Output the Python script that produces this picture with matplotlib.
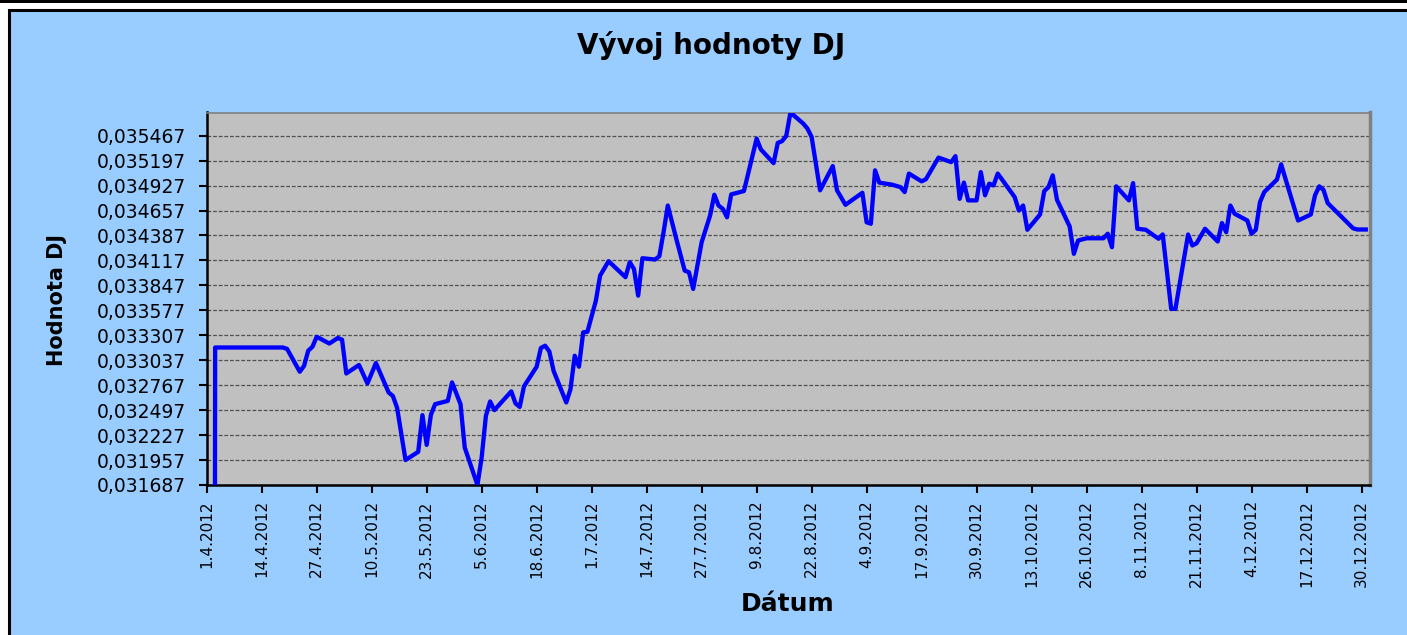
import numpy as np
import pandas as pd
import matplotlib
matplotlib.use('Agg')
import matplotlib.pyplot as plt
from matplotlib.patches import Rectangle

# hodnoty DJ (odcitane z grafu)
datumy = ['2012-04-02', '2012-04-03', '2012-04-19', '2012-04-20', '2012-04-23', '2012-04-24',
          '2012-04-25', '2012-04-26', '2012-04-27', '2012-04-30', '2012-05-02', '2012-05-03',
          '2012-05-04', '2012-05-07', '2012-05-09', '2012-05-11', '2012-05-14', '2012-05-15',
          '2012-05-16', '2012-05-18', '2012-05-21', '2012-05-22', '2012-05-23', '2012-05-24',
          '2012-05-25', '2012-05-28', '2012-05-29', '2012-05-31', '2012-06-01', '2012-06-04',
          '2012-06-05', '2012-06-06', '2012-06-07', '2012-06-08', '2012-06-12', '2012-06-13',
          '2012-06-14', '2012-06-15', '2012-06-18', '2012-06-19', '2012-06-20', '2012-06-21',
          '2012-06-22', '2012-06-25', '2012-06-26', '2012-06-27', '2012-06-28', '2012-06-29',
          '2012-06-30', '2012-07-02', '2012-07-03', '2012-07-05', '2012-07-09', '2012-07-10',
          '2012-07-11', '2012-07-12', '2012-07-13', '2012-07-16', '2012-07-17', '2012-07-18',
          '2012-07-19', '2012-07-21', '2012-07-23', '2012-07-24', '2012-07-25', '2012-07-27',
          '2012-07-29', '2012-07-30', '2012-07-31', '2012-08-01', '2012-08-02', '2012-08-03',
          '2012-08-06', '2012-08-09', '2012-08-10', '2012-08-13', '2012-08-14', '2012-08-15',
          '2012-08-16', '2012-08-17', '2012-08-20', '2012-08-21', '2012-08-22', '2012-08-24',
          '2012-08-27', '2012-08-28', '2012-08-30', '2012-09-03', '2012-09-04', '2012-09-05',
          '2012-09-06', '2012-09-07', '2012-09-10', '2012-09-12', '2012-09-13', '2012-09-14',
          '2012-09-17', '2012-09-18', '2012-09-21', '2012-09-24', '2012-09-25', '2012-09-26',
          '2012-09-27', '2012-09-28', '2012-09-30', '2012-10-01', '2012-10-02', '2012-10-03',
          '2012-10-04', '2012-10-05', '2012-10-09', '2012-10-10', '2012-10-11', '2012-10-12',
          '2012-10-15', '2012-10-16', '2012-10-17', '2012-10-18', '2012-10-19', '2012-10-22',
          '2012-10-23', '2012-10-24', '2012-10-26', '2012-10-30', '2012-10-31', '2012-11-01',
          '2012-11-02', '2012-11-05', '2012-11-06', '2012-11-07', '2012-11-09', '2012-11-12',
          '2012-11-13', '2012-11-15', '2012-11-16', '2012-11-19', '2012-11-20', '2012-11-21',
          '2012-11-23', '2012-11-26', '2012-11-27', '2012-11-28', '2012-11-29', '2012-11-30',
          '2012-12-03', '2012-12-04', '2012-12-05', '2012-12-06', '2012-12-07', '2012-12-10',
          '2012-12-11', '2012-12-12', '2012-12-15', '2012-12-18', '2012-12-19', '2012-12-20',
          '2012-12-21', '2012-12-22', '2012-12-28', '2012-12-29', '2012-12-31']

hodnoty = [0.0, 0.033175, 0.033175, 0.033160, 0.032913, 0.032975,
           0.033140, 0.033183, 0.033291, 0.033218, 0.033278, 0.033259,
           0.032894, 0.032986, 0.032786, 0.033007, 0.032689, 0.032651,
           0.032524, 0.031957, 0.032046, 0.032443, 0.032121, 0.032446,
           0.032562, 0.032597, 0.032797, 0.032562, 0.032092, 0.031687,
           0.031984, 0.032435, 0.032591, 0.032497, 0.032700, 0.032570,
           0.032532, 0.032754, 0.032967, 0.033170, 0.033194, 0.033132,
           0.032923, 0.032580, 0.032724, 0.033086, 0.032967, 0.033339,
           0.033345, 0.033682, 0.033953, 0.034109, 0.033936, 0.034098,
           0.034025, 0.033736, 0.034141, 0.034127, 0.034163, 0.034423,
           0.034711, 0.034352, 0.034007, 0.033990, 0.033809, 0.034314,
           0.034603, 0.034828, 0.034711, 0.034676, 0.034584, 0.034832,
           0.034868, 0.035435, 0.035319, 0.035170, 0.035389, 0.035408,
           0.035464, 0.035718, 0.035599, 0.035545, 0.035454, 0.034876,
           0.035138, 0.034876, 0.034719, 0.034849, 0.034530, 0.034514,
           0.035092, 0.034959, 0.034937, 0.034911, 0.034857, 0.035057,
           0.034973, 0.034995, 0.035230, 0.035181, 0.035246, 0.034784,
           0.034960, 0.034767, 0.034767, 0.035073, 0.034822, 0.034948,
           0.034929, 0.035057, 0.034803, 0.034657, 0.034711, 0.034449,
           0.034614, 0.034868, 0.034911, 0.035038, 0.034774, 0.034485,
           0.034189, 0.034333, 0.034357, 0.034357, 0.034406, 0.034260,
           0.034919, 0.034767, 0.034954, 0.034460, 0.034449, 0.034352,
           0.034398, 0.033593, 0.033593, 0.034398, 0.034279, 0.034303,
           0.034460, 0.034322, 0.034522, 0.034423, 0.034711, 0.034622,
           0.034549, 0.034406, 0.034449, 0.034749, 0.034857, 0.034992,
           0.035157, 0.035003, 0.034549, 0.034614, 0.034822, 0.034919,
           0.034881, 0.034738, 0.034465, 0.034452, 0.034452]

y_min = 0.031687
y_krok = 0.00027
y_max = 0.035718

datumy = pd.to_datetime(datumy)
x_ticky = pd.date_range('2012-04-01', '2012-12-30', freq='13D')
y_ticky = y_min + y_krok * np.arange(15)

fig = plt.figure(figsize=(14.07, 6.35), dpi=100, facecolor='white')
W, H = 1407, 635

# pozadie grafu (svetlomodre) s ciernym okrajom - pod osami
fig.patches.append(Rectangle((9 / W, -0.1), 1.2, (H - 9.5) / H + 0.1, transform=fig.transFigure,
                             facecolor='#99CCFF', edgecolor='black', linewidth=2.2, zorder=-5))
fig.patches.append(Rectangle((0, (H - 3) / H), 1, 3 / H, transform=fig.transFigure,
                             facecolor='black', edgecolor='none', zorder=-5))

ax = fig.add_axes([206.7 / W, 1 - 485 / H, (1370 - 206.7) / W, (485 - 112.5) / H])
ax.set_facecolor('#C0C0C0')

ax.plot(datumy, hodnoty, color='#0000FF', linewidth=3.1, solid_joinstyle='round', zorder=3)

ax.set_ylim(y_min, y_max)
ax.set_xlim(pd.Timestamp('2012-04-01'), pd.Timestamp('2013-01-01'))

ax.set_yticks(y_ticky)
ax.set_yticklabels([f'{v:.6f}'.replace('.', ',') for v in y_ticky],
                   fontsize=13.5, family='DejaVu Sans')
ax.set_xticks(x_ticky)
ax.set_xticklabels([f'{d.day}.{d.month}.{d.year}' for d in x_ticky],
                   rotation=90, fontsize=11, family='DejaVu Sans')

ax.tick_params(axis='y', direction='out', length=6, width=1.5, pad=9)
ax.tick_params(axis='x', direction='out', length=6, width=1.5, pad=5)

ax.yaxis.grid(True, color='#505050', linestyle=(0, (3, 1.5)), linewidth=0.9)
ax.set_axisbelow(True)

ax.spines['left'].set_linewidth(1.8)
ax.spines['bottom'].set_linewidth(1.8)
ax.spines['top'].set_color('#808080')
ax.spines['top'].set_linewidth(1.2)
ax.spines['right'].set_color('#808080')
ax.spines['right'].set_linewidth(2.5)

fig.text(711 / W, 1 - 46 / H, 'Vývoj hodnoty DJ', ha='center', va='center',
         fontsize=20, fontweight='bold', family='DejaVu Sans')
fig.text(57 / W, 1 - 300 / H, 'Hodnota DJ', ha='center', va='center', rotation=90,
         fontsize=15, fontweight='bold', family='DejaVu Sans')
fig.text(788 / W, 1 - 604 / H, 'Dátum', ha='center', va='center',
         fontsize=18, fontweight='bold', family='DejaVu Sans')

fig.savefig('out.png', dpi=100, facecolor=fig.get_facecolor())
